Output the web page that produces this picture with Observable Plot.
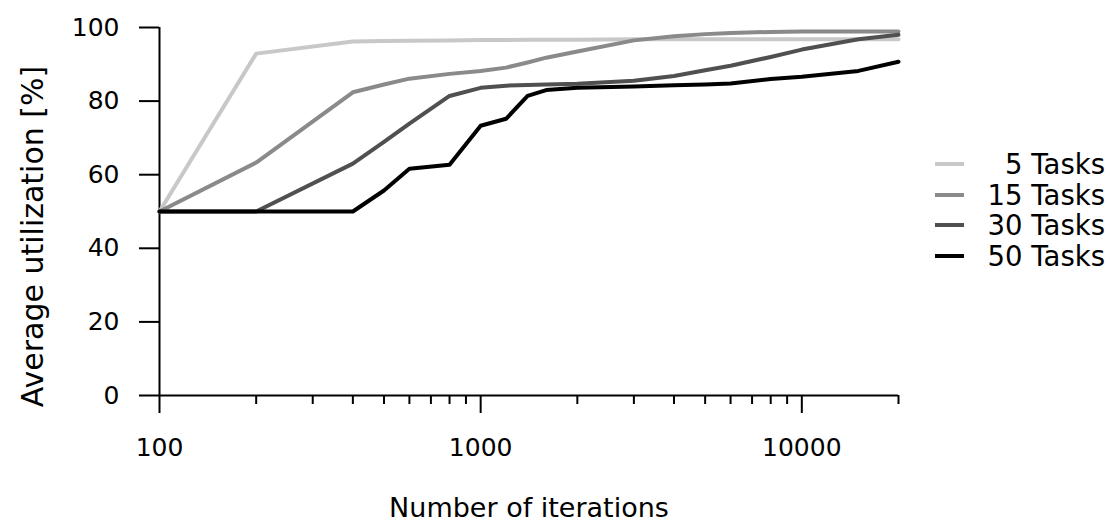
<!DOCTYPE html>
<html>
<head>
<meta charset="utf-8">
<script src="https://cdn.jsdelivr.net/npm/d3@7"></script>
<script src="https://cdn.jsdelivr.net/npm/@observablehq/plot@0.6"></script>
<style>
  html, body { margin: 0; padding: 0; background: #fff; }
  #wrap { position: relative; width: 1110px; height: 523px; font-family: "DejaVu Sans", sans-serif; }
  #legend { position: absolute; left: 935px; top: 148.7px; width: 170px; }
  .row { display: flex; align-items: center; justify-content: space-between; height: 30.6px; }
  .sw { width: 29px; height: 4px; }
  .lab { font-size: 27.5px; line-height: 30px; color: #000; text-align: right; white-space: nowrap; }
</style>
</head>
<body>
<div id="wrap"><div id="legend"></div></div>
<script>
// ---- data ----
const iterations = [100, 200, 400, 500, 600, 800, 1000, 1200, 1400, 1600, 2000, 3000, 4000, 5000, 6000, 8000, 10000, 15000, 20000];
const tasks5  = [50, 92.9, 96.2, 96.3, 96.4, 96.5, 96.6, 96.6, 96.7, 96.7, 96.7, 96.8, 96.8, 96.8, 96.8, 96.8, 96.8, 96.8, 96.8];
const tasks15 = [50, 63.3, 82.4, 84.5, 86.1, 87.4, 88.2, 89.1, 90.5, 91.8, 93.5, 96.5, 97.6, 98.2, 98.5, 98.8, 98.9, 98.9, 98.9];
const tasks30 = [50, 50, 63.0, 68.9, 73.9, 81.4, 83.6, 84.2, 84.4, 84.5, 84.7, 85.5, 86.8, 88.4, 89.6, 92.0, 94.0, 96.8, 98.0];
const tasks50 = [50, 50, 50, 55.7, 61.6, 62.7, 73.3, 75.2, 81.4, 83.0, 83.6, 84.0, 84.3, 84.5, 84.8, 86.0, 86.6, 88.2, 90.7];
const seriesNames = ["5 Tasks", "15 Tasks", "30 Tasks", "50 Tasks"];
const seriesColors = ["#c8c8c8", "#8a8a8a", "#505050", "#000000"];
const yTicks = [0, 20, 40, 60, 80, 100];
const xMajorTicks = [100, 1000, 10000];
const xMinorTicks = [200, 300, 400, 500, 600, 700, 800, 900, 2000, 3000, 4000, 5000, 6000, 7000, 8000, 9000, 20000];
const xLabel = "Number of iterations";
const yLabel = "Average utilization [%]";

const seriesValues = [tasks5, tasks15, tasks30, tasks50];
const rows = seriesNames.flatMap((name, i) =>
  iterations.map((it, j) => ({series: name, iterations: it, value: seriesValues[i][j]})));

const chart = Plot.plot({
  width: 1110,
  height: 523,
  marginLeft: 159,
  marginRight: 212,
  marginTop: 27,
  marginBottom: 128,
  style: {fontFamily: "DejaVu Sans, sans-serif", fontSize: "25px", background: "#fff", color: "#000"},
  x: {type: "log", domain: [100, 20000]},
  y: {domain: [0, 100]},
  color: {domain: seriesNames, range: seriesColors},
  marks: [
    Plot.axisY({ticks: yTicks, tickSize: 20, tickPadding: 20, strokeWidth: 2, fontSize: 25, label: null}),
    Plot.text([yLabel], {frameAnchor: "left", textAnchor: "middle", rotate: -90, lineAnchor: "top", dx: -138, dy: 25, fontSize: 30}),
    Plot.axisX({ticks: xMajorTicks, tickSize: 18, tickPadding: 25, strokeWidth: 2, fontSize: 25,
      tickFormat: d => String(d), label: xLabel, labelAnchor: "center", labelOffset: 121, labelArrow: "none"}),
    Plot.axisX({ticks: xMinorTicks, tickSize: 9, strokeWidth: 2, tickFormat: () => "", label: null}),
    Plot.ruleX([100], {y1: 0, y2: 100, strokeWidth: 2}),
    Plot.ruleY([0], {strokeWidth: 2}),
    Plot.line(rows, {x: "iterations", y: "value", z: "series", stroke: "series", strokeWidth: 4, strokeLinejoin: "round"})
  ]
});
// enlarge the x-axis title slightly
chart.querySelectorAll("g[aria-label='x-axis label'] text").forEach(t => t.setAttribute("font-size", "27"));
const wrap = document.getElementById("wrap");
wrap.insertBefore(chart, wrap.firstChild);

const legend = document.getElementById("legend");
seriesNames.forEach((name, i) => {
  const row = document.createElement("div");
  row.className = "row";
  const sw = document.createElement("div");
  sw.className = "sw";
  sw.style.background = seriesColors[i];
  const lab = document.createElement("div");
  lab.className = "lab";
  lab.textContent = name;
  row.appendChild(sw);
  row.appendChild(lab);
  legend.appendChild(row);
});
</script>
</body>
</html>
